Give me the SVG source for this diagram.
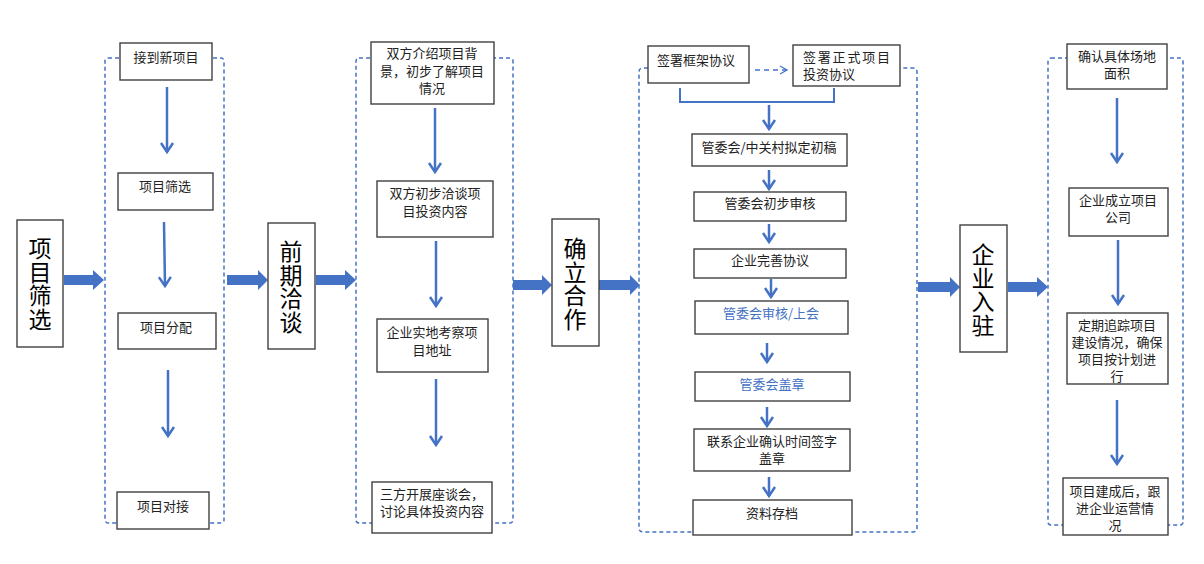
<svg xmlns="http://www.w3.org/2000/svg" width="1204" height="564" viewBox="0 0 1204 564">
<defs>
<style>
.node{fill:#fff;stroke:#404040;stroke-width:1.4}
.lbl{fill:#fff;stroke:#404040;stroke-width:1.4}
.grp{fill:none;stroke:#4472C4;stroke-width:1.5;stroke-dasharray:4 3}
.t{font-family:"Noto Sans CJK SC","Noto Sans",sans-serif;font-size:13px;fill:#222;text-anchor:middle}
.tb{fill:#4472C4}
.big{font-family:"Noto Sans CJK SC","Noto Sans",sans-serif;font-size:23px;fill:#000;writing-mode:vertical-rl;text-anchor:start;letter-spacing:0.5px}
.ar{fill:none;stroke:#4472C4;stroke-width:2.5;marker-end:url(#ah)}
.ard{fill:none;stroke:#4472C4;stroke-width:1.3;stroke-dasharray:5 4;marker-end:url(#ahd)}
.blk{fill:#4472C4}
</style>
<marker id="ah" viewBox="-2 -8 14 16" markerWidth="14" markerHeight="16" refX="9" refY="0" orient="auto" markerUnits="userSpaceOnUse">
<path d="M0,-6 L9,0 L0,6" fill="none" stroke="#4472C4" stroke-width="2.5"/>
</marker>
<marker id="ahd" viewBox="-2 -6 12 12" markerWidth="12" markerHeight="12" refX="7" refY="0" orient="auto" markerUnits="userSpaceOnUse">
<path d="M0,-4 L7,0 L0,4" fill="none" stroke="#4472C4" stroke-width="1.3"/>
</marker>
</defs>
<rect width="1204" height="564" fill="#fff"/>

<g id="groups">
<rect class="grp" x="105" y="58" width="119" height="465" rx="3"/>
<rect class="grp" x="356" y="58" width="157" height="465" rx="3"/>
<path class="grp" d="M648,68 H643 Q639,68 639,72 V528 Q639,532 643,532 H913 Q917,532 917,528 V72 Q917,68 913,68 H900"/>
<rect class="grp" x="1048" y="58" width="135" height="467" rx="3"/>
</g>

<g id="connectors">
<path class="blk" d="M64,275 H93 V270 L104,280 L93,290 V285 H64 Z"/>
<path class="blk" d="M227,275 H258 V270 L268,280 L258,290 V285 H227 Z"/>
<path class="blk" d="M316,275 H345 V270 L356,280 L345,290 V285 H316 Z"/>
<path class="blk" d="M513,280 H542 V275 L552,285 L542,295 V290 H513 Z"/>
<path class="blk" d="M599,280 H630 V275 L640,285 L630,295 V290 H599 Z"/>
<path class="blk" d="M918,282 H950 V277 L960,287 L950,297 V292 H918 Z"/>
<path class="blk" d="M1008,282 H1037 V277 L1048,287 L1037,297 V292 H1008 Z"/>
<line class="ar" x1="167" y1="87" x2="167" y2="152"/>
<line class="ar" x1="164" y1="222" x2="165" y2="286"/>
<line class="ar" x1="168" y1="370" x2="168" y2="436"/>
<line class="ar" x1="435" y1="108" x2="435" y2="172"/>
<line class="ar" x1="436" y1="241" x2="436" y2="306"/>
<line class="ar" x1="436" y1="379" x2="436" y2="445"/>
<line class="ard" x1="755" y1="70" x2="787" y2="70"/>
<path d="M680,88 V102 H834 V88" fill="none" stroke="#4472C4" stroke-width="2"/>
<line class="ar" x1="769" y1="105" x2="769" y2="129"/>
<line class="ar" x1="769" y1="170" x2="769" y2="189"/>
<line class="ar" x1="769" y1="224" x2="769" y2="242"/>
<line class="ar" x1="771" y1="279" x2="771" y2="297"/>
<line class="ar" x1="767" y1="343" x2="767" y2="362"/>
<line class="ar" x1="767" y1="407" x2="767" y2="426"/>
<line class="ar" x1="769" y1="477" x2="769" y2="496"/>
<line class="ar" x1="1117" y1="98" x2="1117" y2="162"/>
<line class="ar" x1="1118" y1="240" x2="1118" y2="304"/>
<line class="ar" x1="1117" y1="400" x2="1117" y2="464"/>
</g>

<g id="stage1">
<rect class="lbl" x="17" y="220" width="46" height="127"/>
<text class="big" x="40" y="237">项目筛选</text>
</g>
<g id="stage2">
<rect class="lbl" x="268" y="223" width="47" height="126"/>
<text class="big" x="291" y="240">前期洽谈</text>
</g>
<g id="stage3">
<rect class="lbl" x="552" y="219" width="47" height="127"/>
<text class="big" x="575" y="237">确立合作</text>
</g>
<g id="stage4">
<rect class="lbl" x="960" y="225" width="47" height="127"/>
<text class="big" x="983" y="243">企业入驻</text>
</g>

<g id="n1a"><rect class="node" x="120" y="43" width="92" height="37"/><text class="t" x="166" y="62">接到新项目</text></g>
<g id="n1b"><rect class="node" x="118" y="173" width="95" height="37"/><text class="t" x="165" y="191">项目筛选</text></g>
<g id="n1c"><rect class="node" x="118" y="313" width="98" height="36"/><text class="t" x="166" y="332">项目分配</text></g>
<g id="n1d"><rect class="node" x="117" y="492" width="92" height="37"/><text class="t" x="163" y="511">项目对接</text></g>

<g id="n2a"><rect class="node" x="371" y="42" width="123" height="62"/>
<text class="t" x="432" y="58">双方介绍项目背<tspan x="432" dy="17.5">景，初步了解项目</tspan><tspan x="432" dy="17">情况</tspan></text></g>
<g id="n2b"><rect class="node" x="377" y="181" width="116" height="56"/>
<text class="t" x="435" y="198">双方初步洽谈项<tspan x="435" dy="18">目投资内容</tspan></text></g>
<g id="n2c"><rect class="node" x="377" y="319" width="111" height="53"/>
<text class="t" x="432" y="337">企业实地考察项<tspan x="432" dy="18">目地址</tspan></text></g>
<g id="n2d"><rect class="node" x="372" y="482" width="120" height="51"/>
<text class="t" x="432" y="499">三方开展座谈会，<tspan x="432" dy="17">讨论具体投资内容</tspan></text></g>

<g id="n3a"><rect class="node" x="648" y="46" width="101" height="37"/>
<text class="t" x="657" y="65" style="text-anchor:start">签署框架协议</text></g>
<g id="n3b"><rect class="node" x="793" y="45" width="107" height="41"/>
<text class="t" style="text-anchor:start"><tspan x="803" y="62" textLength="87" lengthAdjust="spacing">签署正式项目</tspan><tspan x="803" y="79">投资协议</tspan></text></g>
<g id="n3c"><rect class="node" x="692" y="134" width="155" height="32"/>
<text class="t" x="769" y="152">管委会/中关村拟定初稿</text></g>
<g id="n3d"><rect class="node" x="694" y="192" width="152" height="29"/>
<text class="t" x="770" y="208">管委会初步审核</text></g>
<g id="n3e"><rect class="node" x="694" y="249" width="152" height="29"/>
<text class="t" x="770" y="265">企业完善协议</text></g>
<g id="n3f"><rect class="node" x="695" y="301" width="153" height="33"/>
<text class="t tb" x="771" y="318">管委会审核/上会</text></g>
<g id="n3g"><rect class="node" x="695" y="372" width="155" height="29"/>
<text class="t tb" x="772" y="389">管委会盖章</text></g>
<g id="n3h"><rect class="node" x="694" y="429" width="156" height="42"/>
<text class="t" x="772" y="446">联系企业确认时间签字<tspan x="772" dy="17">盖章</tspan></text></g>
<g id="n3i"><rect class="node" x="693" y="500" width="159" height="35"/>
<text class="t" x="772" y="518">资料存档</text></g>

<g id="n4a"><rect class="node" x="1067" y="44" width="100" height="45"/>
<text class="t" x="1117" y="61">确认具体场地<tspan x="1117" dy="17">面积</tspan></text></g>
<g id="n4b"><rect class="node" x="1069" y="188" width="99" height="48"/>
<text class="t" x="1118" y="205">企业成立项目<tspan x="1118" dy="17">公司</tspan></text></g>
<g id="n4c"><rect class="node" x="1067" y="313" width="101" height="71"/>
<text class="t" x="1117" y="330">定期追踪项目<tspan x="1117" dy="17">建设情况，确保</tspan><tspan x="1117" dy="17">项目按计划进</tspan><tspan x="1117" dy="17">行</tspan></text></g>
<g id="n4d"><rect class="node" x="1063" y="478" width="105" height="57"/>
<text class="t" x="1115" y="496">项目建成后，跟<tspan x="1115" dy="17">进企业运营情</tspan><tspan x="1115" dy="17">况</tspan></text></g>
</svg>
